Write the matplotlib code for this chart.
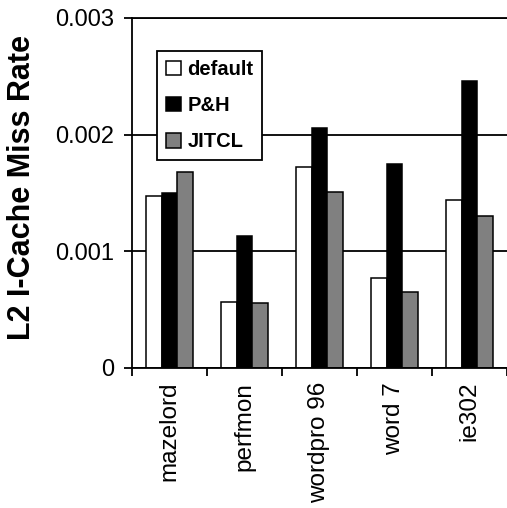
import numpy as np
import matplotlib
matplotlib.use("Agg")
import matplotlib.pyplot as plt

plt.rcParams['font.family'] = ['Liberation Sans', 'DejaVu Sans']

# L2 instruction cache miss rates per benchmark
benchmarks = ['mazelord', 'perfmon', 'wordpro 96', 'word 7', 'ie302']
default = [0.00147, 0.00057, 0.00172, 0.00077, 0.00144]
ph = [0.00150, 0.00113, 0.00206, 0.00175, 0.00246]
jitcl = [0.00168, 0.00056, 0.00151, 0.00065, 0.00130]

series = [('default', default, 'white'),
          ('P&H', ph, 'black'),
          ('JITCL', jitcl, '#808080')]

fig = plt.figure(figsize=(5.07, 5.08), dpi=100)
ax = fig.add_axes([132 / 507, 140 / 508, 375 / 507, 350 / 508])

x = np.arange(len(benchmarks)) + 0.5
w = 0.213
for i, (name, vals, col) in enumerate(series):
    ax.bar(x + (i - 1) * w, vals, w, color=col, edgecolor='black',
           linewidth=1.1, label=name, zorder=3)

ax.set_xlim(0, len(benchmarks))
ax.set_ylim(0, 0.003)
ax.set_yticks([0, 0.001, 0.002, 0.003])
ax.set_yticklabels(['0', '0.001', '0.002', '0.003'], fontsize=17)
ax.yaxis.grid(True, color='black', linewidth=1.3, zorder=0)

# category boundaries get the ticks, names sit in the middle
ax.set_xticks(np.arange(len(benchmarks) + 1))
ax.set_xticklabels([])
ax.set_xticks(x, minor=True)
ax.set_xticklabels(benchmarks, minor=True, rotation=90, fontsize=17.5)
ax.tick_params(axis='x', which='minor', length=0, pad=10)
ax.tick_params(axis='both', which='major', direction='out', length=6,
               width=1.3, color='black')
ax.tick_params(axis='y', pad=7)

ax.spines['right'].set_visible(False)
for s in ['top', 'left', 'bottom']:
    ax.spines[s].set_linewidth(1.3)
    ax.spines[s].set_zorder(4)

fig.text(22 / 507, 0.631, 'L2 I-Cache Miss Rate', rotation=90,
         ha='center', va='center', fontsize=22, fontweight='bold')

leg = ax.legend(loc='upper left', bbox_to_anchor=(0.067, 0.906),
                borderaxespad=0, fancybox=False, framealpha=1,
                edgecolor='black', prop={'weight': 'bold', 'size': 14.5},
                handlelength=0.75, handleheight=0.75, handletextpad=0.3,
                labelspacing=0.85, borderpad=0.45)
leg.get_frame().set_linewidth(1.3)
leg.set_zorder(5)

fig.savefig('out.png', dpi=100)
